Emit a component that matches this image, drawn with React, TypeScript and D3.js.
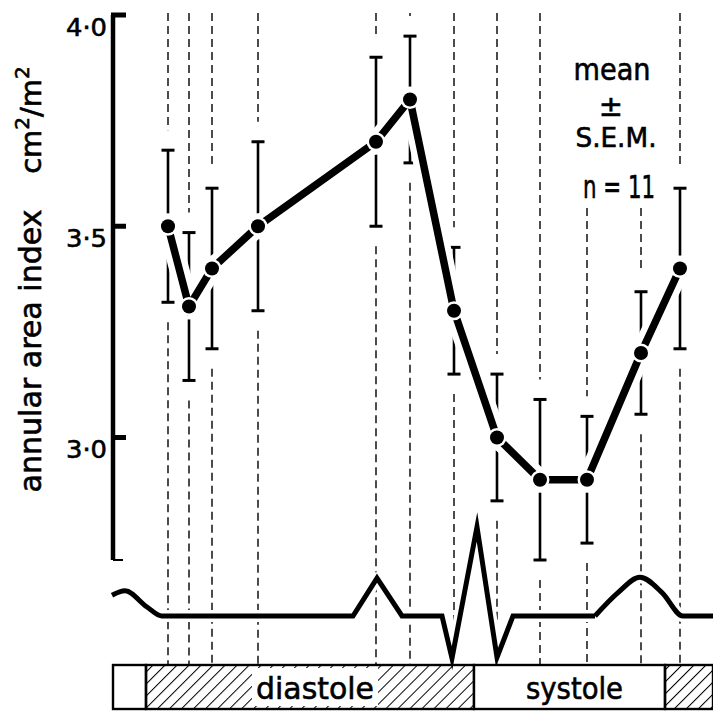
import * as d3 from "d3"

// sample instants in the cardiac cycle (ms from the start of the ECG trace)
const sampleTimes = [55, 76, 99, 145, 263, 297, 341, 384, 427, 474, 528, 567]
// annular area index, cm2/m2 (mean and S.E.M., n = 11)
const meanIndex = [3.5, 3.31, 3.4, 3.5, 3.7, 3.8, 3.3, 3.0, 2.9, 2.9, 3.2, 3.4]
const semIndex = [0.18, 0.175, 0.19, 0.2, 0.2, 0.15, 0.15, 0.15, 0.19, 0.15, 0.145, 0.19]

const yTicks = [3.0, 3.5, 4.0]

// ECG trace [ms, mV]: smooth lead-in, sharp P/QRS, smooth T
const ecgLead: [number, number][] = [[-1, 0.23], [12, 0.28], [34, 0.1], [49, 0], [60, 0]]
const ecgSharp: [number, number][] = [
    [49, 0], [240, 0], [264, 0.42], [289, 0], [329, 0],
    [339, -0.47], [364, 0.99], [384, -0.46], [400, 0], [482, 0],
]
const ecgT: [number, number][] = [[482, 0], [505, 0.26], [527, 0.43], [549, 0.26], [570, 0], [600, 0]]

// phase bar
const phaseNames = ["", "diastole", "systole", ""]
const phaseStart = [0, 33, 361, 552]
const phaseEnd = [33, 361, 552, 600]
const phaseHatched = [false, true, false, true]

const W = 713
const H = 711
const FONT = "'DejaVu Sans', sans-serif"

export default function App() {
    const x = d3.scaleLinear().domain([0, 600]).range([113, 713])
    const y = d3.scaleLinear().domain([2.71, 4.0]).range([560, 15])
    const ecgY = d3.scaleLinear().domain([-0.5, 1.0]).range([661, 526])

    const dashTop = 13
    const barTop = 665
    const barBottom = 709
    const gap = 20

    const dataLine = d3.line<number>()
        .x((_, i) => x(sampleTimes[i]))
        .y(d => y(d))(meanIndex) ?? ""

    const smooth = d3.line<[number, number]>()
        .x(d => x(d[0])).y(d => ecgY(d[1]))
        .curve(d3.curveMonotoneX)
    const sharp = d3.line<[number, number]>()
        .x(d => x(d[0])).y(d => ecgY(d[1]))
    const ecgPath = (smooth(ecgLead) ?? "") + (sharp(ecgSharp) ?? "") + (smooth(ecgT) ?? "")

    const fmt = (v: number) => d3.format(".1f")(v).replace(".", "·")

    // slightly heavier lettering, like the original
    const ink = { stroke: "#000", strokeWidth: 0.6 }

    return (
        <svg width={W} height={H} style={{ position: "absolute", left: 0, top: 0, background: "#fff" }}
            fontFamily={FONT}>
            <defs>
                <pattern id="hatch" patternUnits="userSpaceOnUse" width={8.5} height={8.5}
                    patternTransform="rotate(45)">
                    <line x1={0} y1={0} x2={0} y2={8.5} stroke="#000" strokeWidth={2} />
                </pattern>
            </defs>
            <rect width={W} height={H} fill="#fff" />

            {/* dashed time markers, broken around the error bars */}
            <g stroke="#000" strokeWidth={1.4} strokeDasharray="8 5">
                {sampleTimes.map((t, i) => (
                    <g key={i}>
                        <line x1={x(t)} x2={x(t)} y1={dashTop} y2={y(meanIndex[i] + semIndex[i]) - gap} />
                        <line x1={x(t)} x2={x(t)} y1={y(meanIndex[i] - semIndex[i]) + gap} y2={barTop} />
                    </g>
                ))}
            </g>

            {/* error bars */}
            <g stroke="#000">
                {sampleTimes.map((t, i) => {
                    const hi = y(meanIndex[i] + semIndex[i])
                    const lo = y(meanIndex[i] - semIndex[i])
                    return (
                        <g key={i}>
                            <line x1={x(t)} x2={x(t)} y1={hi} y2={lo} strokeWidth={2.6} />
                            <line x1={x(t) - 6.5} x2={x(t) + 6.5} y1={hi} y2={hi} strokeWidth={3} />
                            <line x1={x(t) - 6.5} x2={x(t) + 6.5} y1={lo} y2={lo} strokeWidth={3} />
                        </g>
                    )
                })}
            </g>

            {/* ECG */}
            <path d={ecgPath} fill="none" stroke="#fff" strokeWidth={12} strokeLinejoin="round" />
            <path d={ecgPath} fill="none" stroke="#000" strokeWidth={5} strokeLinejoin="miter" strokeMiterlimit={6} />

            {/* mean curve */}
            <path d={dataLine} fill="none" stroke="#fff" strokeWidth={20} strokeLinejoin="round" />
            {meanIndex.map((m, i) => (
                <circle key={"h" + i} cx={x(sampleTimes[i])} cy={y(m)} r={13} fill="#fff" />
            ))}
            <path d={dataLine} fill="none" stroke="#000" strokeWidth={7.5} />
            {meanIndex.map((m, i) => (
                <g key={"d" + i}>
                    <circle cx={x(sampleTimes[i])} cy={y(m)} r={9.5} fill="#fff" />
                    <circle cx={x(sampleTimes[i])} cy={y(m)} r={7} fill="#000" />
                </g>
            ))}

            {/* phase bar */}
            {phaseNames.map((name, i) => {
                const x0 = x(phaseStart[i])
                const x1 = x(phaseEnd[i])
                const cx = (x0 + x1) / 2 + 5
                return (
                    <g key={"p" + i}>
                        <rect x={x0} y={barTop} width={x1 - x0} height={barBottom - barTop}
                            fill={phaseHatched[i] ? "url(#hatch)" : "#fff"} stroke="#000" strokeWidth={2.4} />
                        {name && phaseHatched[i] && (
                            <rect x={cx - 63} y={barTop + 3} width={126} height={barBottom - barTop - 6} fill="#fff" />
                        )}
                        {name && (
                            <text x={cx} y={699} textAnchor="middle" fontSize={30} {...ink}
                                textLength={name === "diastole" ? 118 : 97} lengthAdjust="spacingAndGlyphs">
                                {name}
                            </text>
                        )}
                    </g>
                )
            })}

            {/* y axis */}
            <line x1={113} x2={113} y1={y(4.0)} y2={560} stroke="#000" strokeWidth={4.5} />
            <line x1={113} x2={123} y1={560} y2={560} stroke="#000" strokeWidth={2} />
            {yTicks.map(v => (
                <g key={v}>
                    <line x1={111} x2={126} y1={y(v)} y2={y(v)} stroke="#000" strokeWidth={5} />
                    <text x={107} y={y(v) + 21} textAnchor="end" fontSize={25} {...ink}
                        textLength={41} lengthAdjust="spacingAndGlyphs">{fmt(v)}</text>
                </g>
            ))}
            <text transform="translate(41,351) rotate(-90)" textAnchor="middle" fontSize={30} {...ink}
                textLength={283} lengthAdjust="spacingAndGlyphs">
                annular area index
            </text>
            <text transform="translate(41,120) rotate(-90)" textAnchor="middle" fontSize={29} {...ink}>
                cm<tspan fontSize={20} dy={-12}>2</tspan><tspan dy={12}>/m</tspan><tspan fontSize={20} dy={-12}>2</tspan>
            </text>

            {/* legend */}
            <rect x={562} y={0} width={100} height={206} fill="#fff" />
            <g textAnchor="middle" {...ink}>
                <text x={612} y={80} fontSize={30} textLength={77} lengthAdjust="spacingAndGlyphs">mean</text>
                <text x={611} y={116} fontSize={29}>±</text>
                <text x={616} y={147} fontSize={26} textLength={81} lengthAdjust="spacingAndGlyphs">S.E.M.</text>
                <text x={619} y={198} fontSize={32} textLength={72} lengthAdjust="spacingAndGlyphs">n = 11</text>
            </g>
        </svg>
    )
}
